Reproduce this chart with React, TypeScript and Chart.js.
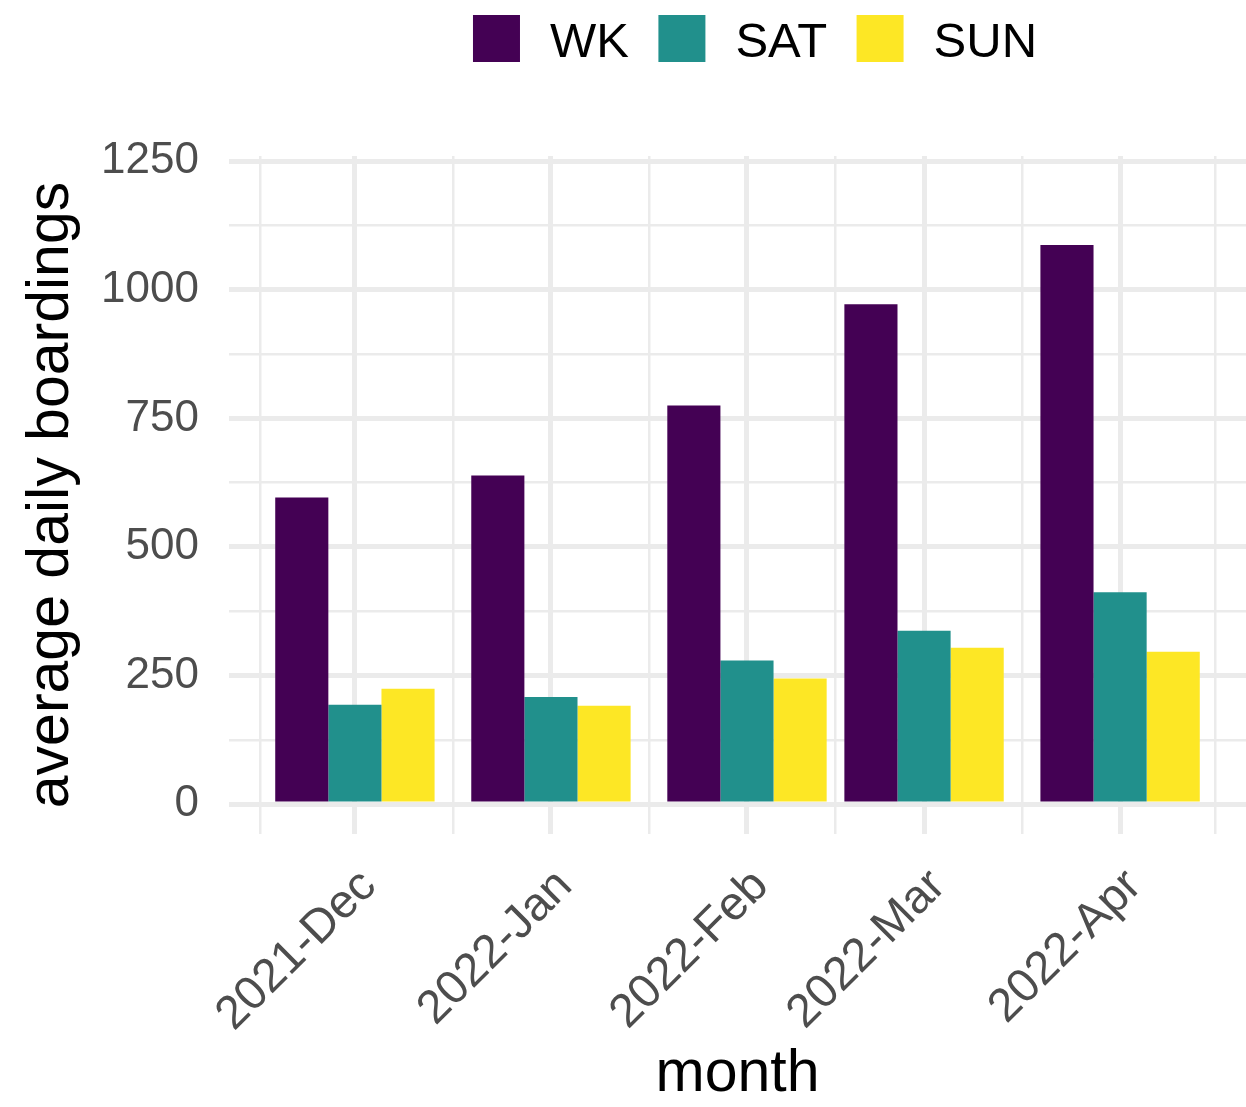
import React, { useEffect, useRef } from 'react';
import { Chart, registerables } from 'chart.js';

Chart.register(...registerables);

// ---- data ----
const monthStarts = ['2021-12-01', '2022-01-01', '2022-02-01', '2022-03-01', '2022-04-01'];
const monthLabels = ['2021-Dec', '2022-Jan', '2022-Feb', '2022-Mar', '2022-Apr'];
const seriesNames = ['WK', 'SAT', 'SUN'];
const seriesColors = ['#440154', '#21908C', '#FDE725'];
const wkValues = [596, 639, 775, 972, 1087];
const satValues = [193, 208, 279, 337, 412];
const sunValues = [224, 191, 244, 304, 296];
const yMajorTicks = [0, 250, 500, 750, 1000, 1250];
const yMinorTicks = [125, 375, 625, 875, 1125];
// month boundaries used for minor (mid-month) grid lines
const minorBoundaryMonths = ['2021-11-01', '2021-12-01', '2022-01-01', '2022-02-01', '2022-03-01', '2022-04-01', '2022-05-01'];

const FONT = '"Liberation Sans", Arial, Helvetica, sans-serif';
const Y_MIN = -58.3;
const Y_MAX = 1260.3;

const dayOf = (s: string) =>
  (Date.parse(s + 'T00:00:00Z') - Date.parse(monthStarts[0] + 'T00:00:00Z')) / 86400000;

const majorDays = monthStarts.map(dayOf);
const boundaryDays = minorBoundaryMonths.map(dayOf);
const minorDays = boundaryDays.slice(1).map((d, i) => (d + boundaryDays[i]) / 2);

// ggplot-like x limits: bar width 0.9 * smallest gap, then 5% expansion
const minGap = Math.min(...majorDays.slice(1).map((d, i) => d - majorDays[i]));
const lo = majorDays[0] - 0.45 * minGap;
const hi = majorDays[majorDays.length - 1] + 0.45 * minGap;
const X_MIN = lo - 0.05 * (hi - lo);
const X_MAX = hi + 0.05 * (hi - lo);

const seriesValues = [wkValues, satValues, sunValues];

const legendPlugin = {
  id: 'ggLegend',
  afterDraw(chart: any) {
    const ctx = chart.ctx as CanvasRenderingContext2D;
    ctx.save();
    ctx.font = `49px ${FONT}`;
    const box = 47;
    const gapText = 30;
    const gapItem = 29.5;
    const items = chart.data.datasets.map((ds: any) => ({
      label: ds.label as string,
      color: ds.backgroundColor as string,
      w: ctx.measureText(ds.label).width,
    }));
    const total = items.reduce(
      (s: number, it: any, i: number) => s + box + gapText + it.w + (i < items.length - 1 ? gapItem : 0),
      0
    );
    let x = 755 - total / 2;
    const top = 15;
    for (const it of items) {
      ctx.fillStyle = it.color;
      ctx.fillRect(x, top, box, box);
      x += box + gapText;
      ctx.fillStyle = '#000000';
      ctx.textBaseline = 'alphabetic';
      ctx.textAlign = 'left';
      ctx.fillText(it.label, x, 57);
      x += it.w + gapItem;
    }
    ctx.restore();
  },
};

export default function App() {
  const canvasRef = useRef<HTMLCanvasElement | null>(null);

  useEffect(() => {
    if (!canvasRef.current) return;
    const chart = new Chart(canvasRef.current, {
      type: 'bar',
      data: {
        datasets: seriesNames.map((name, si) => ({
          label: name,
          xAxisID: 'x',
          yAxisID: 'y',
          backgroundColor: seriesColors[si],
          borderWidth: 0,
          categoryPercentage: 0.9,
          barPercentage: 1.0,
          data: seriesValues[si].map((v, i) => ({ x: majorDays[i], y: v })),
        })),
      },
      options: {
        animation: false,
        responsive: false,
        devicePixelRatio: 1,
        events: [],
        layout: { padding: { top: 156, left: 0, right: 0, bottom: 0 } },
        plugins: {
          legend: { display: false },
          tooltip: { enabled: false },
          title: { display: false },
        },
        scales: {
          x: {
            type: 'linear',
            position: 'bottom',
            offset: false,
            bounds: 'data',
            min: X_MIN,
            max: X_MAX,
            afterBuildTicks: (s: any) => {
              s.ticks = majorDays.map((v) => ({ value: v }));
            },
            afterFit: (s: any) => {
              s.height = 273;
            },
            ticks: {
              autoSkip: false,
              minRotation: 45,
              maxRotation: 45,
              padding: 23,
              labelOffset: 14,
              color: '#4D4D4D',
              font: { family: FONT, size: 47, lineHeight: 1.3 },
              callback: (v: any) => {
                const i = majorDays.indexOf(Number(v));
                return i >= 0 ? monthLabels[i] : '';
              },
            },
            grid: { color: '#EBEBEB', lineWidth: 5, drawTicks: false, offset: false },
            border: { display: false },
            title: {
              display: true,
              text: 'month',
              color: '#000000',
              font: { family: FONT, size: 59, lineHeight: 1 },
              padding: { top: 0, bottom: 3 },
            },
          },
          x2: {
            type: 'linear',
            position: 'bottom',
            offset: false,
            bounds: 'data',
            min: X_MIN,
            max: X_MAX,
            afterBuildTicks: (s: any) => {
              s.ticks = minorDays.map((v) => ({ value: v }));
            },
            afterFit: (s: any) => {
              s.height = 0;
            },
            ticks: { display: false },
            grid: { color: '#EBEBEB', lineWidth: 2.5, drawTicks: false, offset: false },
            border: { display: false },
          },
          y: {
            type: 'linear',
            min: Y_MIN,
            max: Y_MAX,
            afterBuildTicks: (s: any) => {
              s.ticks = [...yMajorTicks, ...yMinorTicks].sort((a, b) => a - b).map((v) => ({ value: v }));
            },
            afterFit: (s: any) => {
              s.width = 229;
            },
            ticks: {
              padding: 30,
              color: '#4D4D4D',
              font: { family: FONT, size: 44 },
              callback: (v: any) => (yMajorTicks.includes(Number(v)) ? String(v) : ''),
            },
            grid: {
              color: '#EBEBEB',
              lineWidth: (ctx: any) =>
                ctx.tick && yMajorTicks.includes(ctx.tick.value) ? 5 : 2.5,
              drawTicks: false,
            },
            border: { display: false },
            title: {
              display: true,
              text: 'average daily boardings',
              color: '#000000',
              font: { family: FONT, size: 59, lineHeight: 1 },
              padding: { top: 22, bottom: 0 },
            },
          },
        },
      } as any,
      plugins: [legendPlugin],
    });
    return () => chart.destroy();
  }, []);

  return (
    <div style={{ position: 'absolute', left: 0, top: 0, width: 1246, height: 1107, background: '#ffffff' }}>
      <canvas ref={canvasRef} width={1246} height={1107} style={{ display: 'block' }} />
    </div>
  );
}
